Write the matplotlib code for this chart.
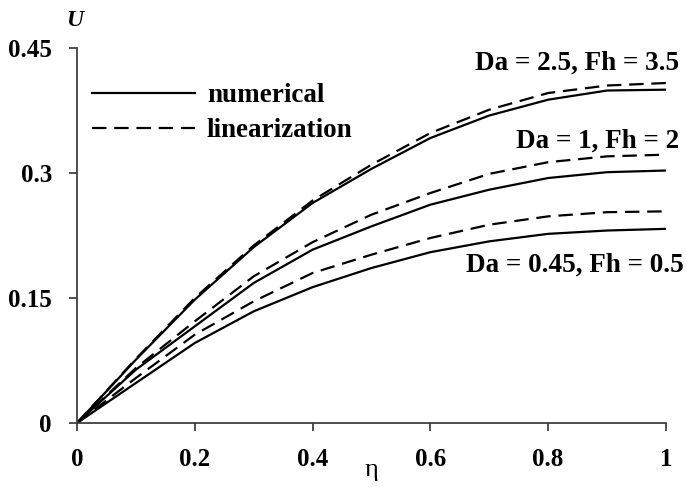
import numpy as np
import matplotlib
matplotlib.use("Agg")
import matplotlib.pyplot as plt

# Data (eta = 0 ... 1, step 0.1)
eta = [0, 0.1, 0.2, 0.3, 0.4, 0.5, 0.6, 0.7, 0.8, 0.9, 1.0]
# Da = 2.5, Fh = 3.5
top_num = [0, 0.076, 0.148, 0.211, 0.264, 0.305, 0.342, 0.369, 0.388, 0.399, 0.400]
top_lin = [0, 0.077, 0.150, 0.213, 0.267, 0.310, 0.348, 0.376, 0.396, 0.405, 0.408]
# Da = 1, Fh = 2
mid_num = [0, 0.064, 0.116, 0.168, 0.208, 0.236, 0.262, 0.280, 0.294, 0.301, 0.303]
mid_lin = [0, 0.066, 0.122, 0.176, 0.217, 0.250, 0.276, 0.299, 0.313, 0.320, 0.322]
# Da = 0.45, Fh = 0.5
bot_num = [0, 0.048, 0.096, 0.134, 0.163, 0.186, 0.205, 0.218, 0.227, 0.231, 0.233]
bot_lin = [0, 0.054, 0.106, 0.146, 0.180, 0.202, 0.222, 0.238, 0.248, 0.253, 0.254]

case_labels = ["Da = 2.5, Fh = 3.5", "Da = 1, Fh = 2", "Da = 0.45, Fh = 0.5"]
xticks = [0, 0.2, 0.4, 0.6, 0.8, 1]
xtick_labels = ["0", "0.2", "0.4", "0.6", "0.8", "1"]
yticks = [0, 0.15, 0.3, 0.45]
ytick_labels = ["0", "0.15", "0.3", "0.45"]

plt.rcParams["font.family"] = ["Liberation Serif", "DejaVu Serif"]

fig = plt.figure(figsize=(6.86, 4.87), dpi=100)
ax = fig.add_axes([0.1122, 0.1314, 0.8586, 0.77])

dash = (6.5, 3.5)
lw = 1.6
for num, lin in [(top_num, top_lin), (mid_num, mid_lin), (bot_num, bot_lin)]:
    ax.plot(eta, num, color="black", lw=lw, solid_capstyle="butt")
    ax.plot(eta, lin, color="black", lw=lw, dashes=dash)

# legend
h1, = ax.plot([], [], color="black", lw=lw, label="numerical")
h2, = ax.plot([], [], color="black", lw=lw, dashes=dash, label="linearization")
leg = ax.legend(handles=[h1, h2], loc="upper left", bbox_to_anchor=(0.025, 0.906),
                frameon=False, handlelength=3.8, handletextpad=0.45,
                labelspacing=0.37, borderpad=0, borderaxespad=0,
                prop={"weight": "bold", "size": 19.5})

# case annotations
ax.text(1.022, 0.432, case_labels[0], ha="right", va="center",
        fontsize=19.5, fontweight="bold", clip_on=False)
ax.text(1.022, 0.338, case_labels[1], ha="right", va="center",
        fontsize=19.5, fontweight="bold", clip_on=False)
ax.text(1.03, 0.19, case_labels[2], ha="right", va="center",
        fontsize=19.5, fontweight="bold", clip_on=False)

ax.set_xlim(0, 1)
ax.set_ylim(0, 0.45)
ax.set_xticks(xticks)
ax.set_xticklabels(xtick_labels)
ax.set_yticks(yticks)
ax.set_yticklabels(ytick_labels)
for lab in ax.get_xticklabels() + ax.get_yticklabels():
    lab.set_fontweight("bold")
    lab.set_fontsize(18)

for s in ["top", "right"]:
    ax.spines[s].set_visible(False)
for s in ["left", "bottom"]:
    ax.spines[s].set_color("#404040")
    ax.spines[s].set_linewidth(1.3)
ax.tick_params(axis="both", direction="out", length=6, width=1.3, color="#404040")
ax.tick_params(axis="x", pad=12)
ax.tick_params(axis="y", pad=12)

ax.set_xlabel("η", fontsize=19, labelpad=-9)
fig.text(75 / 686, 1 - 20 / 487, "U", ha="center", va="center",
         fontsize=17, fontweight="bold", fontstyle="italic")

fig.savefig("out.png", dpi=100)
